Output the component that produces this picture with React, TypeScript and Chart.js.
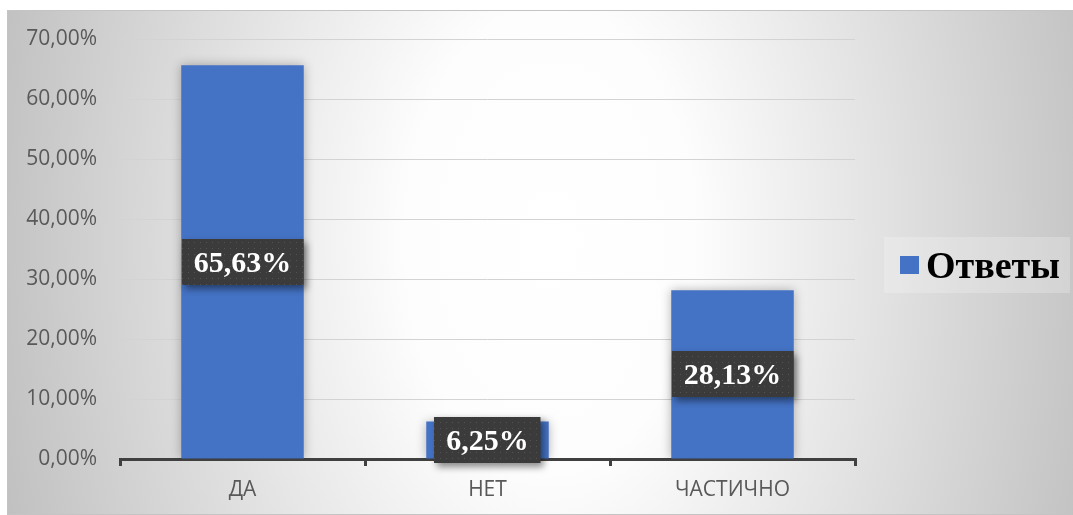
import React, { useEffect, useRef } from "react";
import { Chart, registerables } from "chart.js";

Chart.register(...registerables);

const categories = ["ДА", "НЕТ", "ЧАСТИЧНО"];
const seriesName = "Ответы";
const values = [65.63, 6.25, 28.13];
const yTicks = [0, 10, 20, 30, 40, 50, 60, 70];

const W = 1073;
const H = 515;

const fmtTick = (v: number) => v.toFixed(2).replace(".", ",") + "%";
const fmtLabel = (v: number) => v.toFixed(2).replace(".", ",") + "%";

function makePattern(ctx: CanvasRenderingContext2D) {
  const c = document.createElement("canvas");
  c.width = 6;
  c.height = 6;
  const p = c.getContext("2d")!;
  p.fillStyle = "#3b3b3b";
  p.fillRect(0, 0, 6, 6);
  p.fillStyle = "#545454";
  p.fillRect(2, 2, 1, 1);
  return ctx.createPattern(c, "repeat")!;
}

const backgroundPlugin = {
  id: "bgPlugin",
  beforeDraw(chart: any) {
    const ctx: CanvasRenderingContext2D = chart.ctx;
    ctx.save();
    ctx.fillStyle = "#ffffff";
    ctx.fillRect(0, 0, W, H);
    ctx.save();
    ctx.beginPath();
    ctx.rect(7, 10, W - 7, H - 11);
    ctx.clip();
    const cx = 550;
    const cy = 240;
    const sy = 1.6;
    ctx.translate(cx, cy);
    ctx.scale(1, sy);
    const g = ctx.createRadialGradient(0, 0, 0, 0, 0, 580);
    g.addColorStop(0, "#ffffff");
    g.addColorStop(0.25, "#fdfdfd");
    g.addColorStop(1, "#bfbfbf");
    ctx.fillStyle = g;
    ctx.fillRect(-cx, -cy / sy, W, H / sy);
    ctx.restore();
    ctx.strokeStyle = "#c4c4c4";
    ctx.lineWidth = 1;
    ctx.strokeRect(7.5, 10.5, W - 7, H - 11);
    ctx.restore();
  },
  beforeDatasetsDraw(chart: any) {
    const ctx: CanvasRenderingContext2D = chart.ctx;
    ctx.save();
    ctx.shadowColor = "rgba(0,0,0,0.28)";
    ctx.shadowBlur = 10;
    ctx.shadowOffsetX = 0;
    ctx.shadowOffsetY = 0;
  },
  afterDatasetsDraw(chart: any) {
    const ctx: CanvasRenderingContext2D = chart.ctx;
    ctx.restore();
    const meta = chart.getDatasetMeta(0);
    const data = chart.data.datasets[0].data as number[];
    const pattern = makePattern(ctx);
    ctx.save();
    ctx.font = "bold 30px 'Liberation Serif', 'Times New Roman', serif";
    meta.data.forEach((el: any, i: number) => {
      const text = fmtLabel(data[i]);
      const cx = el.x;
      const cy = (el.y + el.base) / 2;
      const tw = ctx.measureText(text).width;
      const bw = tw + 24;
      const bh = 46;
      const bx = Math.round(cx - bw / 2);
      const by = Math.round(cy - bh / 2);
      ctx.save();
      ctx.shadowColor = "rgba(0,0,0,0.45)";
      ctx.shadowBlur = 7;
      ctx.shadowOffsetX = 3;
      ctx.shadowOffsetY = 4;
      ctx.fillStyle = pattern;
      ctx.fillRect(bx, by, bw, bh);
      ctx.restore();
      ctx.fillStyle = "#ffffff";
      ctx.textAlign = "center";
      ctx.textBaseline = "middle";
      ctx.fillText(text, cx, cy + 2);
    });
    ctx.restore();
  },
  afterDraw(chart: any) {
    const ctx: CanvasRenderingContext2D = chart.ctx;
    const ds = chart.data.datasets[0];
    ctx.save();
    ctx.fillStyle = "rgba(255,255,255,0.22)";
    ctx.fillRect(884, 237, 186, 56);
    ctx.fillStyle = ds.backgroundColor as string;
    ctx.fillRect(900, 256, 19, 18);
    ctx.fillStyle = "#000000";
    ctx.font = "bold 38px 'Liberation Serif', 'Times New Roman', serif";
    ctx.textAlign = "left";
    ctx.textBaseline = "alphabetic";
    ctx.fillText(ds.label, 926, 278);
    ctx.restore();
  },
};

export default function App() {
  const ref = useRef<HTMLCanvasElement>(null);
  useEffect(() => {
    if (!ref.current) return;
    const chart = new Chart(ref.current, {
      type: "bar",
      data: {
        labels: categories,
        datasets: [
          {
            label: seriesName,
            data: values,
            backgroundColor: "#4472C4",
            borderWidth: 0,
            barPercentage: 0.5,
            categoryPercentage: 1,
          },
        ],
      },
      plugins: [backgroundPlugin],
      options: {
        responsive: false,
        animation: false,
        devicePixelRatio: 1,
        layout: { padding: { left: 0, right: W - 855, top: 39, bottom: 0 } },
        plugins: {
          legend: { display: false },
          tooltip: { enabled: false },
        },
        scales: {
          x: {
            afterFit(scale: any) {
              scale.height = H - 459;
            },
            grid: {
              offset: true,
              drawOnChartArea: false,
              drawTicks: true,
              tickLength: 7,
              color: "#404040",
              lineWidth: 3,
            },
            border: { display: true, color: "#404040", width: 3 },
            ticks: {
              color: "#595959",
              font: { family: "'Open Sans', sans-serif", size: 21 },
              padding: 11,
            },
          },
          y: {
            min: 0,
            max: 70,
            afterFit(scale: any) {
              scale.width = 120;
            },
            afterBuildTicks(scale: any) {
              scale.ticks = yTicks.map((v) => ({ value: v }));
            },
            grid: { color: "#d3d3d3", lineWidth: 1, drawTicks: false },
            border: { display: false },
            ticks: {
              color: "#595959",
              font: { family: "'Open Sans', sans-serif", size: 21 },
              padding: 23,
              callback: (v: any) => fmtTick(Number(v)),
            },
          },
        },
      },
    });
    return () => chart.destroy();
  }, []);
  return (
    <div style={{ position: "absolute", left: 0, top: 0, width: W, height: H }}>
      <canvas ref={ref} width={W} height={H} />
    </div>
  );
}
